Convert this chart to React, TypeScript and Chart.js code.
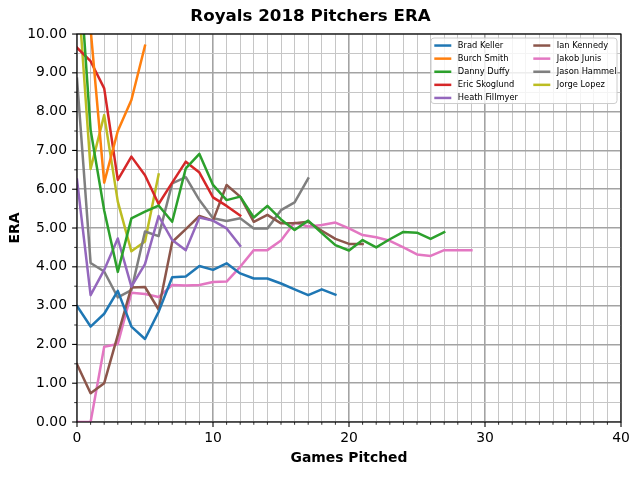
import React, { useEffect, useRef } from 'react';
import { Chart, registerables } from 'chart.js';

Chart.register(...registerables);

// ---- Data (ERA after each game pitched; index = games pitched) ----
const pitcherNames = [
  'Brad Keller',
  'Burch Smith',
  'Danny Duffy',
  'Eric Skoglund',
  'Heath Fillmyer',
  'Ian Kennedy',
  'Jakob Junis',
  'Jason Hammel',
  'Jorge Lopez',
];

const bradKeller = [2.99, 2.46, 2.79, 3.38, 2.46, 2.14, 2.84, 3.73, 3.75, 4.02, 3.92, 4.09, 3.83, 3.70, 3.70, 3.57, 3.42, 3.27, 3.42, 3.28];
const burchSmith = [13.5, 10.13, 6.17, 7.5, 8.3, 9.7];
const dannyDuffy = [12.6, 7.53, 5.45, 3.87, 5.25, 5.42, 5.58, 5.16, 6.54, 6.91, 6.11, 5.72, 5.81, 5.27, 5.57, 5.22, 4.95, 5.19, 4.87, 4.56, 4.42, 4.69, 4.5, 4.71, 4.9, 4.88, 4.72, 4.89];
const ericSkoglund = [9.65, 9.3, 8.6, 6.24, 6.84, 6.36, 5.62, 6.17, 6.71, 6.43, 5.79, 5.57, 5.32];
const heathFillmyer = [6.25, 3.27, 3.92, 4.73, 3.49, 4.07, 5.31, 4.69, 4.43, 5.27, 5.19, 4.99, 4.54];
const ianKennedy = [1.49, 0.74, 1.0, 2.24, 3.47, 3.48, 2.9, 4.64, 4.97, 5.31, 5.19, 6.11, 5.81, 5.16, 5.34, 5.12, 5.12, 5.16, 4.93, 4.72, 4.59, 4.59];
const jakobJunis = [0, 0, 1.94, 2.01, 3.33, 3.3, 3.22, 3.53, 3.52, 3.53, 3.61, 3.62, 4.0, 4.43, 4.43, 4.68, 5.14, 5.04, 5.08, 5.14, 4.99, 4.82, 4.76, 4.67, 4.5, 4.32, 4.28, 4.43, 4.43, 4.43];
const jasonHammel = [8.85, 4.1, 3.88, 3.21, 3.4, 4.91, 4.79, 6.15, 6.31, 5.72, 5.25, 5.18, 5.25, 4.99, 4.99, 5.46, 5.66, 6.28];
const jorgeLopez = [11.5, 6.52, 7.91, 5.68, 4.4, 4.65, 6.38];

const seriesColors = ['#1f77b4', '#ff7f0e', '#2ca02c', '#d62728', '#9467bd', '#8c564b', '#e377c2', '#7f7f7f', '#bcbd22'];

const titleText = 'Royals 2018 Pitchers ERA';
const xTitle = 'Games Pitched';
const yTitle = 'ERA';
const xMin = 0;
const xMax = 40;
const yMin = 0;
const yMax = 10;

const FONT = '"DejaVu Sans", sans-serif';

const framePlugin = {
  id: 'frameTicks',
  afterDatasetsDraw(chart: any) {
    const { ctx, chartArea: a, scales } = chart;
    ctx.save();
    ctx.strokeStyle = '#000';
    scales.x.ticks.forEach((t: any) => {
      const px = scales.x.getPixelForValue(t.value);
      const major = Math.abs(t.value % 10) < 1e-9;
      ctx.lineWidth = major ? 1.1 : 0.8;
      ctx.beginPath();
      ctx.moveTo(px, a.bottom);
      ctx.lineTo(px, a.bottom + (major ? 4.9 : 2.8));
      ctx.stroke();
    });
    scales.y.ticks.forEach((t: any) => {
      const py = scales.y.getPixelForValue(t.value);
      const major = Math.abs(t.value - Math.round(t.value)) < 1e-9;
      ctx.lineWidth = major ? 1.1 : 0.8;
      ctx.beginPath();
      ctx.moveTo(a.left, py);
      ctx.lineTo(a.left - (major ? 4.9 : 2.8), py);
      ctx.stroke();
    });
    ctx.lineWidth = 1.1;
    ctx.strokeRect(a.left, a.top, a.right - a.left, a.bottom - a.top);
    ctx.restore();
  },
};

function roundRect(ctx: CanvasRenderingContext2D, x: number, y: number, w: number, h: number, r: number) {
  ctx.beginPath();
  ctx.moveTo(x + r, y);
  ctx.lineTo(x + w - r, y);
  ctx.arcTo(x + w, y, x + w, y + r, r);
  ctx.lineTo(x + w, y + h - r);
  ctx.arcTo(x + w, y + h, x + w - r, y + h, r);
  ctx.lineTo(x + r, y + h);
  ctx.arcTo(x, y + h, x, y + h - r, r);
  ctx.lineTo(x, y + r);
  ctx.arcTo(x, y, x + r, y, r);
  ctx.closePath();
}

const insideLegendPlugin = {
  id: 'insideLegend',
  afterDraw(chart: any) {
    const { ctx, chartArea: a } = chart;
    const boxW = 186;
    const boxH = 65.5;
    const left = a.right - boxW - 4;
    const top = a.top + 4;
    ctx.save();
    roundRect(ctx, left, top, boxW, boxH, 3);
    ctx.fillStyle = 'rgba(255,255,255,0.8)';
    ctx.fill();
    ctx.strokeStyle = '#cccccc';
    ctx.lineWidth = 1;
    ctx.stroke();
    ctx.font = `8.3px ${FONT}`;
    ctx.textBaseline = 'middle';
    ctx.textAlign = 'left';
    const perCol = 5;
    chart.data.datasets.forEach((ds: any, i: number) => {
      const col = Math.floor(i / perCol);
      const row = i % perCol;
      const colX = left + 3.3 + col * 99;
      const rowY = top + 7.5 + row * 13.1;
      ctx.strokeStyle = ds.borderColor;
      ctx.lineWidth = 2.5;
      ctx.lineCap = 'butt';
      ctx.beginPath();
      ctx.moveTo(colX, rowY);
      ctx.lineTo(colX + 17, rowY);
      ctx.stroke();
      ctx.fillStyle = '#000';
      ctx.fillText(ds.label, colX + 23.5, rowY);
    });
    ctx.restore();
  },
};

export default function App() {
  const canvasRef = useRef<HTMLCanvasElement>(null);

  useEffect(() => {
    const series = [bradKeller, burchSmith, dannyDuffy, ericSkoglund, heathFillmyer, ianKennedy, jakobJunis, jasonHammel, jorgeLopez];
    const datasets = pitcherNames.map((name, k) => ({
      label: name,
      data: series[k].map((v, i) => ({ x: i, y: v })),
      borderColor: seriesColors[k],
      backgroundColor: seriesColors[k],
      borderWidth: 2.5,
      borderJoinStyle: 'round' as const,
      borderCapStyle: 'square' as const,
      pointRadius: 0,
      pointHoverRadius: 0,
      fill: false,
      tension: 0,
      clip: 0,
    }));

    const chart = new Chart(canvasRef.current as HTMLCanvasElement, {
      type: 'line',
      data: { datasets },
      options: {
        animation: false,
        responsive: false,
        devicePixelRatio: 1,
        layout: { padding: { left: 0, right: 19, top: 0, bottom: 0 } },
        plugins: {
          legend: { display: false },
          tooltip: { enabled: false },
          title: {
            display: true,
            text: titleText,
            color: '#000',
            font: { family: FONT, size: 16.7, weight: 'bold', lineHeight: 1.2 },
            padding: { top: 7, bottom: 7 },
          },
        },
        scales: {
          x: {
            type: 'linear',
            min: xMin,
            max: xMax,
            afterFit: (scale: any) => {
              scale.height = 58;
            },
            ticks: {
              stepSize: 1,
              autoSkip: false,
              maxRotation: 0,
              padding: 7.7,
              color: '#000',
              font: { family: FONT, size: 13.9, lineHeight: 1.2 },
              callback: (v: any) => (Math.abs(Number(v) % 10) < 1e-9 ? String(v) : ''),
            },
            grid: {
              drawTicks: false,
              color: (c: any) => (Math.abs(c.tick.value % 10) < 1e-9 ? '#a3a3a3' : '#c6c6c6'),
              lineWidth: (c: any) => (Math.abs(c.tick.value % 10) < 1e-9 ? 1.6 : 1.0),
            },
            border: { display: false },
            title: {
              display: true,
              text: xTitle,
              color: '#000',
              font: { family: FONT, size: 13.9, weight: 'bold', lineHeight: 1.2 },
              padding: { top: 0, bottom: 13.7 },
            },
          },
          y: {
            type: 'linear',
            min: yMin,
            max: yMax,
            afterFit: (scale: any) => {
              scale.width = 77;
            },
            ticks: {
              stepSize: 0.5,
              autoSkip: false,
              padding: 10,
              color: '#000',
              font: { family: FONT, size: 13.9, lineHeight: 1.2 },
              callback: (v: any) => {
                const n = Number(v);
                return Math.abs(n - Math.round(n)) < 1e-9 ? n.toFixed(2) : '';
              },
            },
            grid: {
              drawTicks: false,
              color: (c: any) => (Math.abs(c.tick.value - Math.round(c.tick.value)) < 1e-9 ? '#a3a3a3' : '#c6c6c6'),
              lineWidth: (c: any) => (Math.abs(c.tick.value - Math.round(c.tick.value)) < 1e-9 ? 1.6 : 1.0),
            },
            border: { display: false },
            title: {
              display: true,
              text: yTitle,
              color: '#000',
              font: { family: FONT, size: 13.9, weight: 'bold', lineHeight: 1.2 },
              padding: { top: 6.7, bottom: 0 },
            },
          },
        },
      },
      plugins: [framePlugin, insideLegendPlugin],
    } as any);

    return () => {
      chart.destroy();
    };
  }, []);

  return (
    <div style={{ position: 'fixed', left: 0, top: 0, width: 640, height: 480, background: '#fff' }}>
      <canvas ref={canvasRef} width={640} height={480} style={{ display: 'block', width: 640, height: 480 }} />
    </div>
  );
}
